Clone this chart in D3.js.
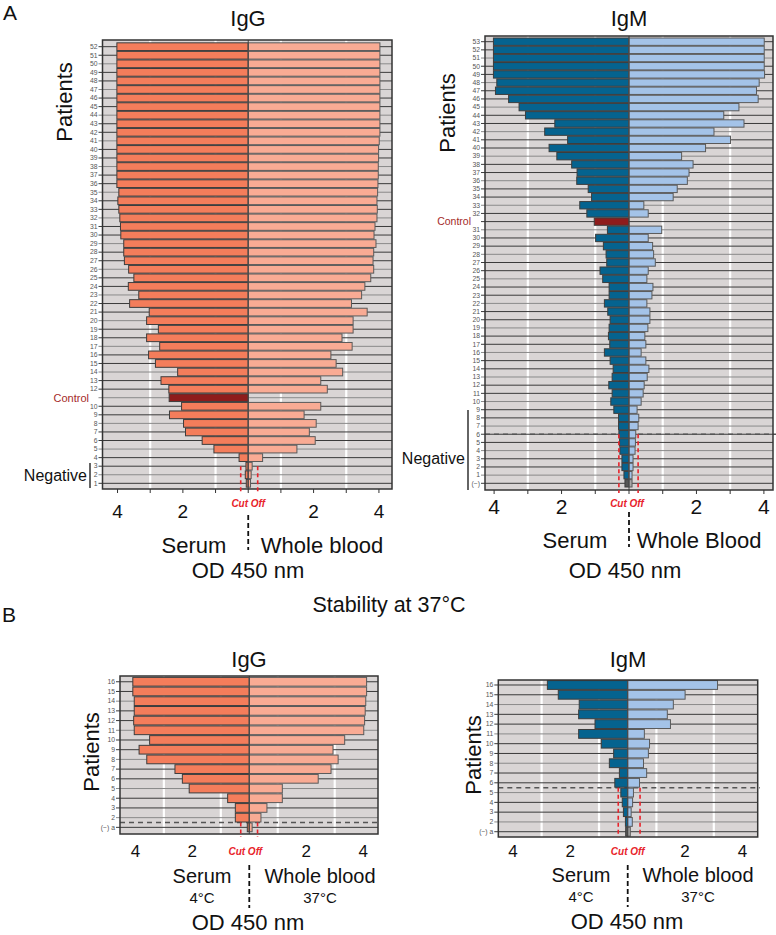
<!DOCTYPE html>
<html><head><meta charset="utf-8">
<script src="https://cdn.jsdelivr.net/npm/d3@7"></script>
<style>body{margin:0;background:#fff}svg{display:block}text{font-family:"Liberation Sans",Arial,sans-serif}</style>
</head><body>
<script>
// ---------- DATA (rows listed bottom -> top) ----------
const igGA_labels = ["1","2","3","4","5","6","7","8","9","10","Control","12","13","14","15","16","17","18","19","20","21","22","23","24","25","26","27","28","29","30","31","32","33","34","35","36","37","38","39","40","41","42","43","44","45","46","47","48","49","50","51","52"];
const igGA_serum = [0.06,0.09,0.07,0.28,1.05,1.41,1.92,1.98,2.41,2.04,2.42,2.43,2.67,2.16,2.84,3.05,2.71,3.11,2.75,3.11,3.03,3.63,3.35,3.67,3.50,3.66,3.79,3.81,3.81,3.90,3.91,3.93,3.96,3.99,3.96,4.02,4.02,4.02,4.02,4.02,4.02,4.02,4.02,4.02,4.02,4.02,4.02,4.02,4.02,4.02,4.02,4.02];
const igGA_blood = [0.07,0.09,0.12,0.44,1.49,2.05,1.87,2.08,1.71,2.22,0,2.42,2.22,2.89,2.69,2.53,3.18,2.87,3.21,3.21,3.64,3.16,3.47,3.57,3.75,3.84,3.82,3.84,3.91,3.85,3.88,3.94,3.95,3.94,3.96,3.97,3.98,3.98,3.99,3.99,4.01,4.03,4.03,4.03,4.03,4.03,4.03,4.03,4.03,4.03,4.03,4.03];

const igMA_labels = ["(−)","1","2","3","4","5","6","7","8","9","10","11","12","13","14","15","16","17","18","19","20","21","22","23","24","25","26","27","28","29","30","31","Control","32","33","34","35","36","37","38","39","40","41","42","43","44","45","46","47","48","49","50","51","52","53"];
const igMA_serum = [0.12,0.15,0.21,0.21,0.27,0.28,0.30,0.31,0.31,0.45,0.54,0.50,0.60,0.50,0.47,0.56,0.73,0.57,0.61,0.59,0.56,0.63,0.73,0.59,0.59,0.78,0.86,0.66,0.68,0.76,0.99,0.64,1.03,1.25,1.46,1.11,1.21,1.55,1.54,1.70,2.14,2.37,1.82,2.50,2.20,3.07,3.26,3.57,3.96,3.92,4.02,4.02,4.02,4.02,4.02];
const igMA_blood = [0.09,0.09,0.12,0.12,0.18,0.19,0.20,0.27,0.29,0.24,0.36,0.42,0.45,0.54,0.59,0.50,0.36,0.50,0.47,0.56,0.62,0.62,0.53,0.68,0.71,0.53,0.57,0.78,0.73,0.70,0.57,0.97,0,0.57,0.44,1.31,1.43,1.73,1.78,1.90,1.56,2.27,3.01,2.52,3.41,2.81,3.26,3.83,3.78,3.86,4.02,4.01,4.01,4.01,4.01];

const igGB_labels = ["(−) a","2","3","4","5","6","7","8","9","10","11","12","13","14","15","16"];
const igGB_serum4C = [0.07,0.49,0.49,0.76,2.11,2.35,2.61,3.60,3.87,3.50,4.04,4.06,4.04,4.04,4.09,4.09];
const igGB_blood37C = [0.10,0.41,0.62,1.16,1.16,2.42,2.87,3.12,2.94,3.35,4.02,4.05,4.07,4.09,4.12,4.12];

const igMB_labels = ["(−) a","2","3","4","5","6","7","8","9","10","11","12","13","14","15","16"];
const igMB_serum4C = [0.07,0.08,0.15,0.19,0.24,0.45,0.29,0.64,0.49,0.92,1.71,1.14,1.71,1.69,2.42,2.80];
const igMB_blood37C = [0.09,0.16,0.12,0.17,0.20,0.41,0.66,0.55,0.72,0.76,0.58,1.49,1.38,1.59,2.00,3.13];

const cutoffs = {igGA:[0.23,0.29], igMA:[0.30,0.27], igGB:[0.30,0.29], igMB:[0.33,0.43]};
const axisTickValues = [-4,-2,2,4];
const minorTickValues = [-4,-3,-2,-1,0,1,2,3,4];
const whiteGrid = [-3,-1,1,3];

// ---------- DRAW ----------
const W = 776, H = 935;
const svg = d3.select("body").append("svg").attr("width", W).attr("height", H);

const colors = {
  igG: {serum:"#f47d5b", blood:"#f9ab94"},
  igM: {serum:"#05638f", blood:"#a4c3e8"},
  control:"#8e1c1c", negS:"#555555", negB:"#a8a8a8"
};

function text(x, y, s, o = {}) {
  const t = svg.append("text").attr("x", x).attr("y", y).text(s)
    .attr("font-size", o.size || 12).attr("fill", o.fill || "#111")
    .attr("text-anchor", o.anchor || "middle");
  if (o.weight) t.attr("font-weight", o.weight);
  if (o.style) t.attr("font-style", o.style);
  if (o.rotate) t.attr("transform", `rotate(${o.rotate},${x},${y})`);
  return t;
}

function drawPanel(p) {
  const g = svg.append("g");
  const x = d3.scaleLinear().domain([-p.dl, p.dr]).range([p.x0, p.x1]);
  const y = d3.scaleBand().domain(p.labels).range([p.yb, p.yt]).paddingInner(0.1).paddingOuter(0.05);
  const cy = l => y(l) + y.bandwidth() / 2;

  g.append("rect").attr("x", p.x0).attr("y", p.pt).attr("width", p.x1 - p.x0).attr("height", p.pb - p.pt).attr("fill", "#d9d5d5");
  g.selectAll(".wg").data(p.white).join("line")
    .attr("x1", d => x(d)).attr("x2", d => x(d)).attr("y1", p.pt).attr("y2", p.pb)
    .attr("stroke", "#fff").attr("stroke-width", 2.2);
  g.selectAll(".hg").data(p.labels).join("line")
    .attr("x1", p.x0 - 4).attr("x2", p.x1).attr("y1", d => cy(d)).attr("y2", d => cy(d))
    .attr("stroke", (d, i) => i % 3 === 1 ? "#8a8a8a" : "#3a3a3a").attr("stroke-width", 1);

  if (p.dash) {
    const yd = (cy(p.dash[0]) + cy(p.dash[1])) / 2;
    g.append("line").attr("x1", p.x0).attr("x2", p.dashEnd).attr("y1", yd).attr("y2", yd)
      .attr("stroke", "#555").attr("stroke-width", 1.6).attr("stroke-dasharray", "5,4");
  }

  const rows = p.labels.map((l, i) => ({l, s: p.serum[i], b: p.blood[i]}));
  const col = (d, side) => {
    if (d.l === "Control") return colors.control;
    if (p.grey && p.grey.includes(d.l)) return side === "s" ? colors.negS : colors.negB;
    return side === "s" ? p.c.serum : p.c.blood;
  };
  g.selectAll(".bs").data(rows.filter(d => d.s > 0)).join("rect")
    .attr("x", d => x(-d.s)).attr("width", d => x(0) - x(-d.s))
    .attr("y", d => y(d.l)).attr("height", y.bandwidth())
    .attr("fill", d => col(d, "s")).attr("stroke", "#3d3d3d").attr("stroke-width", 1);
  g.selectAll(".bb").data(rows.filter(d => d.b > 0)).join("rect")
    .attr("x", x(0)).attr("width", d => x(d.b) - x(0))
    .attr("y", d => y(d.l)).attr("height", y.bandwidth())
    .attr("fill", d => col(d, "b")).attr("stroke", "#5a5a5a").attr("stroke-width", 1);

  g.append("line").attr("x1", x(0)).attr("x2", x(0)).attr("y1", p.pt).attr("y2", p.pb)
    .attr("stroke", "#444").attr("stroke-width", 1);
  g.append("rect").attr("x", p.x0).attr("y", p.pt).attr("width", p.x1 - p.x0).attr("height", p.pb - p.pt)
    .attr("fill", "none").attr("stroke", "#333").attr("stroke-width", 1.5);

  // y tick labels
  g.selectAll(".yl").data(p.labels.filter(l => l !== "Control")).join("text")
    .attr("x", p.x0 - 5).attr("y", d => cy(d) + 2.3).attr("text-anchor", "end")
    .attr("font-size", 6.8).attr("fill", "#555").text(d => d);
  if (p.labels.includes("Control")) {
    text(p.ctrlX, cy("Control") + 3.8, "Control", {size: p.ctrlSize || 11, fill: "#a52a2a", anchor: "end"});
  }

  // x axis
  if (p.ticks) {
    g.selectAll(".xt").data(minorTickValues).join("line")
      .attr("x1", d => x(d)).attr("x2", d => x(d)).attr("y1", p.pb).attr("y2", p.pb + 4)
      .attr("stroke", "#333").attr("stroke-width", 1);
  }
  g.selectAll(".xl").data(axisTickValues).join("text")
    .attr("x", d => x(d)).attr("y", p.tickY).attr("text-anchor", "middle")
    .attr("font-size", p.tickSize).attr("fill", "#111").text(d => Math.abs(d));

  // cut off
  const co = cutoffs[p.key];
  const cTop = (cy(p.cutTop[0]) + cy(p.cutTop[1])) / 2;
  [-co[0], co[1]].forEach(v => {
    g.append("line").attr("x1", x(v)).attr("x2", x(v)).attr("y1", cTop).attr("y2", p.cutBottom)
      .attr("stroke", "#e8232b").attr("stroke-width", 1.6).attr("stroke-dasharray", "4,3");
  });
  text(x(0) + (p.cutDx || 0), p.cutY, "Cut Off", {size: 10, fill: "#e8232b", weight: "bold", style: "italic"});

  // center dashed
  g.append("line").attr("x1", x(0)).attr("x2", x(0)).attr("y1", p.vd[0]).attr("y2", p.vd[1])
    .attr("stroke", "#111").attr("stroke-width", 1.8).attr("stroke-dasharray", "5,3");

  text(p.title[0], p.title[1], p.titleText, {size: 22});
  text(p.pat[0], p.pat[1], "Patients", {size: 22, rotate: -90});
  p.texts.forEach(t => text(t[0], t[1], t[2], {size: t[3]}));
  if (p.neg) {
    text(p.neg.tx, p.neg.ty, "Negative", {size: 16, anchor: "end"});
    g.append("line").attr("x1", p.neg.lx).attr("x2", p.neg.lx).attr("y1", p.neg.y1).attr("y2", p.neg.y2)
      .attr("stroke", "#111").attr("stroke-width", 1.3);
  }
  return {x, y};
}

drawPanel({
  key: "igGA", labels: igGA_labels, serum: igGA_serum, blood: igGA_blood, c: colors.igG,
  x0: 102.5, x1: 392, dl: 4.46, dr: 4.4, yb: 487.6, yt: 42.4, pt: 40, pb: 489,
  white: whiteGrid, ticks: true, tickY: 518, tickSize: 19, ctrlX: 89, ctrlSize: 11,
  cutTop: ["3", "3"], cutBottom: 492, cutY: 507, vd: [515, 550],
  title: [248, 26], titleText: "IgG", pat: [72, 102],
  texts: [[194, 553, "Serum", 22], [322, 553, "Whole blood", 22], [248, 578, "OD 450 nm", 22]],
  neg: {tx: 87, ty: 481, lx: 90, y1: 463, y2: 488}
});

drawPanel({
  key: "igMA", labels: igMA_labels, serum: igMA_serum, blood: igMA_blood, c: colors.igM, grey: ["(−)"],
  x0: 485, x1: 773, dl: 4.27, dr: 4.27, yb: 487.4, yt: 37.6, pt: 36, pb: 490,
  white: whiteGrid, ticks: true, tickY: 514, tickSize: 21, ctrlX: 471, ctrlSize: 10.5,
  dash: ["6", "6"], dashEnd: 776,
  cutTop: ["6", "6"], cutBottom: 493, cutY: 507, cutDx: -2, vd: [512, 547],
  title: [629, 26], titleText: "IgM", pat: [455, 113],
  texts: [[575, 548, "Serum", 22], [699, 548, "Whole Blood", 22], [625, 578, "OD 450 nm", 22]],
  neg: {tx: 465, ty: 464, lx: 468, y1: 410, y2: 490}
});

drawPanel({
  key: "igGB", labels: igGB_labels, serum: igGB_serum4C, blood: igGB_blood37C, c: colors.igG,
  x0: 120, x1: 378, dl: 4.54, dr: 4.52, yb: 832.2, yt: 676.9, pt: 676, pb: 834,
  white: whiteGrid, ticks: false, tickY: 857, tickSize: 17,
  dash: ["(−) a", "2"], dashEnd: 378,
  cutTop: ["(−) a", "2"], cutBottom: 837, cutY: 855, cutDx: -4, vd: [865, 908],
  title: [249, 667], titleText: "IgG", pat: [99, 752],
  texts: [[202, 883, "Serum", 20], [202, 903, "4°C", 15], [320, 883, "Whole blood", 20], [320, 903, "37°C", 15], [248, 930, "OD 450 nm", 22]]
});

drawPanel({
  key: "igMB", labels: igMB_labels, serum: igMB_serum4C, blood: igMB_blood37C, c: colors.igM, grey: ["(−) a"],
  x0: 498.3, x1: 757.7, dl: 4.51, dr: 4.53, yb: 836.6, yt: 680.1, pt: 680, pb: 837,
  white: whiteGrid, ticks: false, tickY: 857, tickSize: 17,
  dash: ["5", "6"], dashEnd: 760,
  cutTop: ["5", "6"], cutBottom: 837, cutY: 855, vd: [865, 907],
  title: [628, 667], titleText: "IgM", pat: [481, 755],
  texts: [[581, 882, "Serum", 20], [581, 902, "4°C", 15], [698, 882, "Whole blood", 20], [698, 902, "37°C", 15], [627, 929, "OD 450 nm", 22]]
});

text(3, 20, "A", {size: 21, anchor: "start"});
text(2, 622, "B", {size: 21, anchor: "start"});
text(389, 612, "Stability at 37°C", {size: 21.5});
</script>
</body></html>
